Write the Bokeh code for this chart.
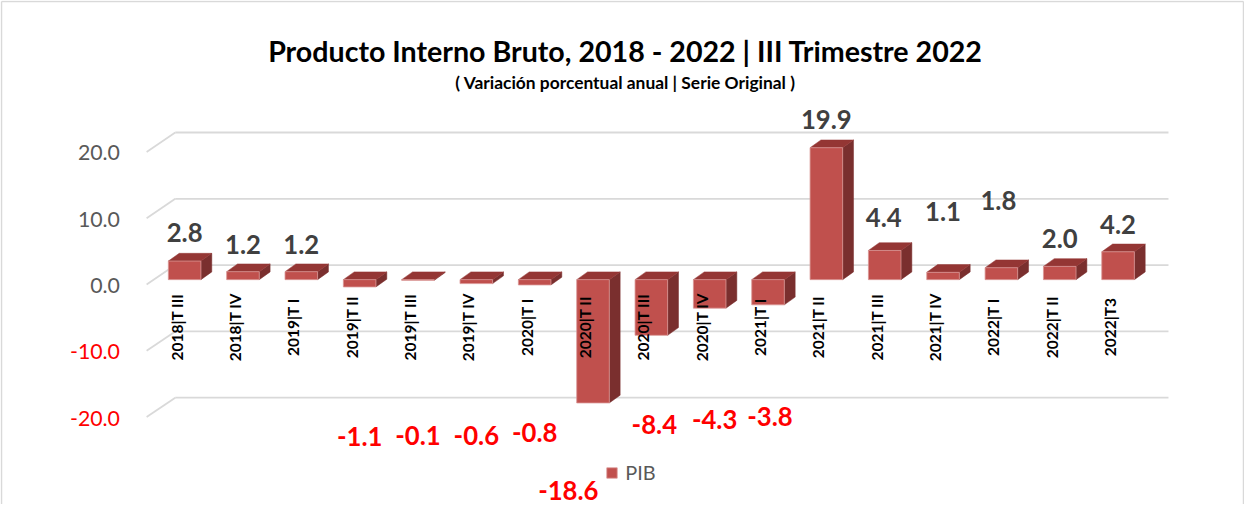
import numpy as np
from bokeh.plotting import figure
from bokeh.models import Range1d, Legend, LegendItem
from bokeh.core.properties import value
from bokeh.embed import file_html
from bokeh.resources import INLINE

# ---------------- data ----------------
categories = ["2018|T III", "2018|T IV", "2019|T I", "2019|T II", "2019|T III",
              "2019|T IV", "2020|T I", "2020|T II", "2020|T III", "2020|T IV",
              "2021|T I", "2021|T II", "2021|T III", "2021|T IV", "2022|T I",
              "2022|T II", "2022|T3"]
pib = [2.8, 1.2, 1.2, -1.1, -0.1, -0.6, -0.8, -18.6, -8.4, -4.3, -3.8,
       19.9, 4.4, 1.1, 1.8, 2.0, 4.2]
y_ticks = [-20, -10, 0, 10, 20]
y_tick_labels = ["-20.0", "-10.0", "0.0", "10.0", "20.0"]
series_name = "PIB"
title_text = "Producto Interno Bruto, 2018 - 2022 | III Trimestre 2022"
subtitle_text = "( Variación porcentual anual | Serie Original )"

# ---------------- layout / style ----------------
W, H = 1244, 504
REF_W, REF_H = 1260, 520          # layout constants below are in this frame
SX, SY = W / REF_W, H / REF_H
PXX = 59.09 * SX      # pixels per category
PXY = 6.84 * SY       # pixels per percentage point
X0 = 186.5 * SX       # pixel x of first bar centre
Y0 = 288.0 * SY       # pixel y (from top) of bar zero level

x_start = -X0 / PXX
x_end = (W - X0) / PXX
y_end = Y0 / PXY
y_start = -(H - Y0) / PXY


def X(px):
    return x_start + px * SX / PXX


def Y(py):
    return y_end - py * SY / PXY


def dX(px):
    return px * SX / PXX


def dY(py):
    return py * SY / PXY


def fs(size):
    return f"{size * SY:.1f}px"


# label placement (pixel gaps from bar end, pixel x nudges)
label_gap_px = [29, 28, 28, 154, 160, 157, 152, 90, 92, 115, 115, 29, 34, 63, 69, 29, 28]
label_dx_px = [0, 0, 0, 0, 0, 0, 0, -25, 3, 5, 2, 0, -1, 0, -3, 0, 0]

FRONT = "#c0504d"
TOP = "#943634"
SIDE = "#7a2f2e"
GRID = "#d9d9d9"
FONT_NAME = "Lato"
FONT = value(FONT_NAME)

p = figure(width=W, height=H, x_range=Range1d(x_start, x_end),
           y_range=Range1d(y_start, y_end), output_backend="svg",
           toolbar_location=None, x_axis_location=None, y_axis_location=None,
           min_border=0, outline_line_color=None,
           background_fill_color="white", border_fill_color="white")
p.grid.visible = False

# outer border (left, top, right)
bl, bt, br = X(1 / SX), Y(1 / SY), X((W - 1) / SX)
bb = Y(H / SY)
p.segment(x0=[bl, bl, br], y0=[bb, bt, bt], x1=[bl, br, br], y1=[bt, bt, bb],
          line_color=GRID, line_width=1.5)

# 3D back wall grid + floor diagonals
back_dy = dY(15)
front_dy = dY(5)
gx_back_l = X(177)
gx_back_r = X(1183)
gx_front = X(148)
ticks = np.array(y_ticks, dtype=float)
p.segment(x0=[gx_back_l] * len(ticks), y0=ticks + back_dy,
          x1=[gx_back_r] * len(ticks), y1=ticks + back_dy,
          line_color=GRID, line_width=1.8)
p.segment(x0=[gx_front] * len(ticks), y0=ticks - front_dy,
          x1=[gx_back_l] * len(ticks), y1=ticks + back_dy,
          line_color=GRID, line_width=1.8)

# y tick labels
tick_colors = ["#ff0000" if t < 0 else "#595959" for t in y_ticks]
p.text(x=[X(121)] * len(ticks), y=ticks - front_dy - dY(1), text=y_tick_labels,
       text_color=tick_colors, text_font=FONT, text_font_size=fs(22),
       text_align="right", text_baseline="middle")

# bars
vals = np.array(pib, dtype=float)
idx = np.arange(len(vals), dtype=float)
half = dX(33) / 2
ddx, ddy = dX(11), dY(8)
left = idx - half
right = idx + half
top = np.maximum(vals, 0)
bottom = np.minimum(vals, 0)

side_xs = [[r, r + ddx, r + ddx, r] for r in right]
side_ys = [[b, b + ddy, t + ddy, t] for b, t in zip(bottom, top)]
top_xs = [[l, l + ddx, r + ddx, r] for l, r in zip(left, right)]
top_ys = [[t, t + ddy, t + ddy, t] for t in top]

p.patches(xs=side_xs, ys=side_ys, fill_color=SIDE, line_color=SIDE, line_width=0.5)
p.patches(xs=top_xs, ys=top_ys, fill_color=TOP, line_color=TOP, line_width=0.5)
front = p.quad(left=left, right=right, top=top, bottom=bottom,
               fill_color=FRONT, line_color="#d99694", line_width=0.8)

# category labels (rotated)
p.text(x=idx + dX(-8), y=[-dY(49)] * len(idx), text=categories, angle=np.pi / 2,
       text_font=FONT, text_font_style="bold", text_font_size=fs(16),
       text_color="black", text_align="center", text_baseline="middle")

# value labels
sign = np.where(vals >= 0, 1.0, -1.0)
lab_y = vals + sign * np.array([dY(g) for g in label_gap_px])
lab_x = idx + np.array([dX(d) for d in label_dx_px])
lab_txt = [f"{v:.1f}" for v in pib]
lab_col = ["#404040" if v >= 0 else "#ff0000" for v in pib]
p.text(x=lab_x, y=lab_y, text=lab_txt, text_color=lab_col, text_font=FONT,
       text_font_style="bold", text_font_size=fs(26.5),
       text_align="center", text_baseline="middle")

# titles
p.text(x=[X(633)], y=[Y(52)], text=[title_text], text_font=FONT,
       text_font_style="bold", text_font_size=fs(29.5), text_color="black",
       text_align="center", text_baseline="middle")
p.text(x=[X(633)], y=[Y(85)], text=[subtitle_text], text_font=FONT,
       text_font_style="bold", text_font_size=fs(18), text_color="black",
       text_align="center", text_baseline="middle")

# legend
leg_top = 480 * SY
legend = Legend(items=[LegendItem(label=series_name, renderers=[front])],
                location=(613 * SX, H - leg_top - 19), orientation="horizontal",
                glyph_width=13, glyph_height=13, label_height=13,
                label_standoff=7, padding=0, margin=0, spacing=0,
                border_line_color=None, background_fill_alpha=0,
                label_text_font=FONT_NAME, label_text_font_size=fs(20.5),
                label_text_color="#595959")
p.add_layout(legend, "center")

open("out.html", "w").write(file_html(p, INLINE))
